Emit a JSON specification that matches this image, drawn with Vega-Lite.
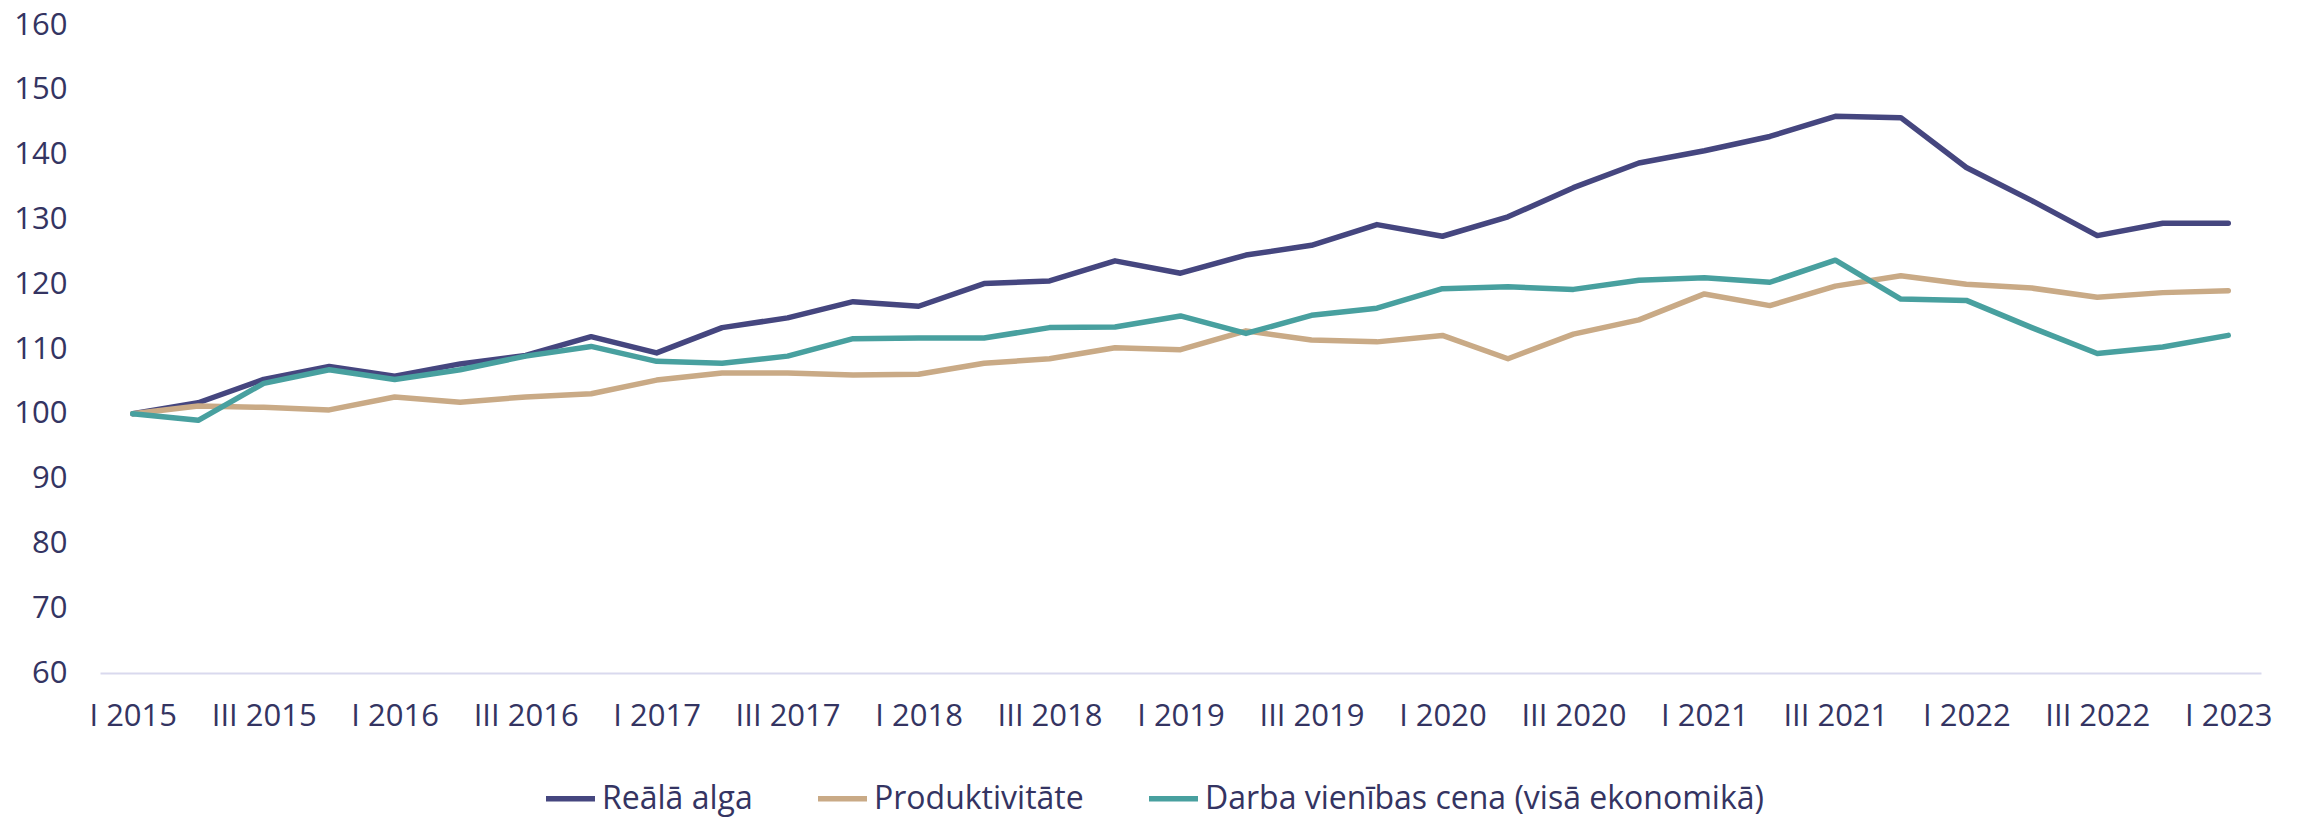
{
  "$schema": "https://vega.github.io/schema/vega-lite/v6.json",
  "autosize": {"type": "none"},
  "width": 2161,
  "height": 648,
  "padding": {"left": 100, "top": 25, "right": 41, "bottom": 144},
  "background": "white",
  "config": {
    "view": {"stroke": null},
    "font": "Open Sans"
  },
  "datasets": {
    "q": [
      {"q": "I 2015", "i": 0, "a": 100.0, "p": 100.0, "d": 100.0},
      {"q": "II 2015", "i": 1, "a": 101.7, "p": 101.2, "d": 99.0},
      {"q": "III 2015", "i": 2, "a": 105.3, "p": 101.0, "d": 104.7},
      {"q": "IV 2015", "i": 3, "a": 107.3, "p": 100.6, "d": 106.8},
      {"q": "I 2016", "i": 4, "a": 105.8, "p": 102.6, "d": 105.3},
      {"q": "II 2016", "i": 5, "a": 107.7, "p": 101.8, "d": 106.8},
      {"q": "III 2016", "i": 6, "a": 109.0, "p": 102.6, "d": 108.9},
      {"q": "IV 2016", "i": 7, "a": 111.9, "p": 103.1, "d": 110.4},
      {"q": "I 2017", "i": 8, "a": 109.4, "p": 105.2, "d": 108.1},
      {"q": "II 2017", "i": 9, "a": 113.3, "p": 106.3, "d": 107.8},
      {"q": "III 2017", "i": 10, "a": 114.8, "p": 106.3, "d": 108.9},
      {"q": "IV 2017", "i": 11, "a": 117.3, "p": 106.0, "d": 111.6},
      {"q": "I 2018", "i": 12, "a": 116.6, "p": 106.1, "d": 111.7},
      {"q": "II 2018", "i": 13, "a": 120.1, "p": 107.8, "d": 111.7},
      {"q": "III 2018", "i": 14, "a": 120.5, "p": 108.5, "d": 113.3},
      {"q": "IV 2018", "i": 15, "a": 123.6, "p": 110.2, "d": 113.4},
      {"q": "I 2019", "i": 16, "a": 121.7, "p": 109.9, "d": 115.1},
      {"q": "II 2019", "i": 17, "a": 124.5, "p": 112.8, "d": 112.4},
      {"q": "III 2019", "i": 18, "a": 126.0, "p": 111.4, "d": 115.2},
      {"q": "IV 2019", "i": 19, "a": 129.2, "p": 111.1, "d": 116.3},
      {"q": "I 2020", "i": 20, "a": 127.4, "p": 112.1, "d": 119.3},
      {"q": "II 2020", "i": 21, "a": 130.4, "p": 108.5, "d": 119.6},
      {"q": "III 2020", "i": 22, "a": 134.9, "p": 112.3, "d": 119.2},
      {"q": "IV 2020", "i": 23, "a": 138.7, "p": 114.5, "d": 120.6},
      {"q": "I 2021", "i": 24, "a": 140.6, "p": 118.5, "d": 121.0},
      {"q": "II 2021", "i": 25, "a": 142.8, "p": 116.7, "d": 120.3},
      {"q": "III 2021", "i": 26, "a": 145.9, "p": 119.7, "d": 123.7},
      {"q": "IV 2021", "i": 27, "a": 145.7, "p": 121.3, "d": 117.7},
      {"q": "I 2022", "i": 28, "a": 138.0, "p": 120.0, "d": 117.5},
      {"q": "II 2022", "i": 29, "a": 132.9, "p": 119.4, "d": 113.3},
      {"q": "III 2022", "i": 30, "a": 127.5, "p": 118.0, "d": 109.3},
      {"q": "IV 2022", "i": 31, "a": 129.4, "p": 118.7, "d": 110.3},
      {"q": "I 2023", "i": 32, "a": 129.4, "p": 119.0, "d": 112.1}
    ]
  },
  "data": {"name": "q"},
  "transform": [
    {"fold": ["a", "p", "d"], "as": ["k", "v"]},
    {"lookup": "k", "from": {"data": {"values": [
      {"k": "a", "s": "Reālā alga", "o": 0},
      {"k": "p", "s": "Produktivitāte", "o": 1},
      {"k": "d", "s": "Darba vienības cena (visā ekonomikā)", "o": 2}
    ]}, "key": "k", "fields": ["s", "o"]}}
  ],
  "mark": {"type": "line", "strokeWidth": 5.5, "strokeCap": "round", "strokeJoin": "round"},
  "encoding": {
    "x": {
      "field": "q", "type": "ordinal", "sort": {"field": "i"},
      "scale": {"type": "point", "padding": 0.5},
      "axis": {
        "title": null,
        "values": ["I 2015", "III 2015", "I 2016", "III 2016", "I 2017", "III 2017", "I 2018", "III 2018", "I 2019", "III 2019", "I 2020", "III 2020", "I 2021", "III 2021", "I 2022", "III 2022", "I 2023"],
        "labelAngle": 0,
        "ticks": false, "tickSize": 0,
        "domainColor": "#d9d9ee", "domainWidth": 2,
        "grid": false,
        "labelFont": "Open Sans", "labelFontSize": 31, "labelColor": "#343462",
        "labelPadding": 28
      }
    },
    "y": {
      "field": "v", "type": "quantitative",
      "scale": {"domain": [60, 160], "nice": false, "zero": false},
      "axis": {
        "title": null,
        "values": [60, 70, 80, 90, 100, 110, 120, 130, 140, 150, 160],
        "domain": false, "ticks": false, "tickSize": 0, "grid": false,
        "labelFont": "Open Sans", "labelFontSize": 31, "labelColor": "#343462",
        "labelPadding": 33
      }
    },
    "color": {
      "field": "s", "type": "nominal",
      "scale": {
        "domain": ["Reālā alga", "Produktivitāte", "Darba vienības cena (visā ekonomikā)"],
        "range": ["#45467f", "#c9aa86", "#48a09f"]
      },
      "legend": {
        "title": null,
        "orient": "none",
        "legendX": 443,
        "legendY": 746,
        "direction": "horizontal",
        "symbolType": "stroke",
        "symbolStrokeWidth": 5.5,
        "symbolSize": 2400,
        "labelFont": "Open Sans", "labelFontSize": 32, "labelColor": "#343462",
        "labelOffset": 4,
        "columnPadding": 54,
        "labelLimit": 1000
      }
    },
    "order": {"field": "o"}
  }
}
